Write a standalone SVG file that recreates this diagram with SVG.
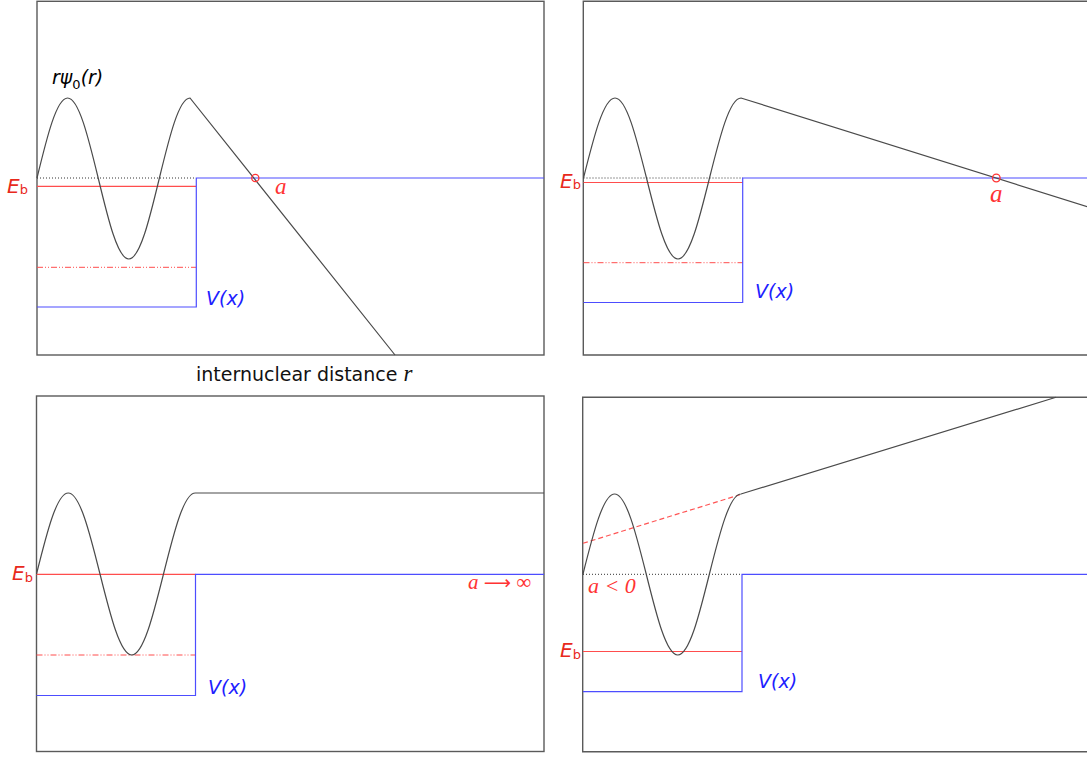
<svg xmlns="http://www.w3.org/2000/svg" width="1087" height="757" viewBox="0 0 1087 757">
<style>
.frame{fill:none;stroke:#5a5a5a;stroke-width:1.4}
.wave{fill:none;stroke:#4a4a4a;stroke-width:1.2}
.pot{fill:none;stroke:#4d4dff;stroke-width:1.2}
.eb{fill:none;stroke:#ff4d4d;stroke-width:1.2}
.dd{fill:none;stroke:#ff4d4d;stroke-width:1;stroke-dasharray:6,2,1,2,1,2}
.dot{fill:none;stroke:#333;stroke-width:1;stroke-dasharray:1,2}
.dash{fill:none;stroke:#ff5555;stroke-width:1.2;stroke-dasharray:5,3}
.mark{fill:none;stroke:#ff3333;stroke-width:1.3}
.lab{font-family:"DejaVu Sans",Verdana,sans-serif;font-style:italic;font-size:19px}
.sub{font-style:normal;font-size:13px}
.eblab{fill:#e8291c;font-size:20px}
.vlab{fill:#2020ff}
.alab{font-family:"Liberation Serif","Times New Roman",serif;font-style:italic;fill:#ff3333}
</style>
<rect width="1087" height="757" fill="#fff"/>

<g id="panel-tl">
<rect class="frame" x="37" y="1.3" width="507" height="353.7"/>
<line class="dot" x1="37" y1="178" x2="196" y2="178"/>
<line class="eb" x1="37" y1="186.3" x2="196" y2="186.3"/>
<line class="dd" x1="37" y1="267.3" x2="196" y2="267.3"/>
<path class="pot" d="M37,307 H196.3 V178 H544"/>
<path class="wave" d="M37,178 C46.98,137 56.53,98 67.6,98 C78.67,98 88.22,137 98.2,178 C108.18,219.5 117.73,259 128.8,259 C139.87,259 149.42,219.5 159.4,178 C169.38,137 178.93,98 190,98 L395,355"/>
<circle class="mark" cx="255.3" cy="178" r="3.6"/>
<text class="alab" x="275" y="194" font-size="23">a</text>
<text class="lab" x="52" y="84" font-size="20">rψ<tspan class="sub" dy="5">0</tspan><tspan dy="-5">(r)</tspan></text>
<text class="lab eblab" x="7" y="193">E<tspan class="sub" dy="1">b</tspan></text>
<text class="lab vlab" x="206" y="305">V(x)</text>
<text x="196" y="381" font-family="DejaVu Sans,Verdana,sans-serif" font-size="19" fill="#111">internuclear distance <tspan font-family="Liberation Serif,serif" font-style="italic" font-size="23">r</tspan></text>
</g>

<g id="panel-tr">
<path class="frame" d="M1090,1.3 H583.3 V355 H1090"/>
<line class="dot" x1="583.5" y1="178" x2="743" y2="178"/>
<line class="eb" x1="583.5" y1="182.5" x2="743" y2="182.5"/>
<line class="dd" x1="583.5" y1="262.7" x2="743" y2="262.7"/>
<path class="pot" d="M583.5,302.5 H742.7 V178 H1090"/>
<path class="wave" d="M583.5,178 C593.77,137 603.6,98 615,98 C626.4,98 636.23,137 646.5,178 C656.77,219.5 666.6,259 678,259 C689.4,259 699.23,219.5 709.5,178 C719.77,137 729.6,98 741,98 L1090,207.5"/>
<circle class="mark" cx="996.3" cy="178" r="3.8"/>
<text class="alab" x="990" y="202" font-size="25">a</text>
<text class="lab eblab" x="560" y="188">E<tspan class="sub" dy="1">b</tspan></text>
<text class="lab vlab" x="755" y="298">V(x)</text>
</g>

<g id="panel-bl">
<rect class="frame" x="36.5" y="396" width="507.5" height="355.5"/>
<line class="dd" x1="36.5" y1="655" x2="195.5" y2="655"/>
<line class="eb" x1="36.5" y1="574.3" x2="195.5" y2="574.3"/>
<path class="pot" d="M36.5,695.5 H195.5 V574.3 H544"/>
<path class="wave" d="M36.5,574 C46.85,532.5 56.76,493 68.25,493 C79.74,493 89.65,532.5 100,574 C110.35,615.5 120.26,655 131.75,655 C143.24,655 153.15,615.5 163.5,574 C173.85,532.5 183.76,493 195.25,493 L544,493"/>
<text class="alab" x="468" y="589" font-size="21">a <tspan font-style="normal" font-family="DejaVu Sans,sans-serif" font-size="19">⟶</tspan><tspan font-style="normal"> ∞</tspan></text>
<text class="lab eblab" x="12" y="580">E<tspan class="sub" dy="2">b</tspan></text>
<text class="lab vlab" x="208" y="694">V(x)</text>
</g>

<g id="panel-br">
<path class="frame" d="M1090,397.3 H582.7 V751.7 H1090"/>
<line class="dot" x1="583" y1="574.3" x2="742" y2="574.3"/>
<line class="eb" x1="583" y1="651.5" x2="742" y2="651.5"/>
<path class="pot" d="M583,691.7 H742 V574.3 H1090"/>
<line class="dash" x1="583" y1="543.3" x2="740" y2="494.7"/>
<path class="wave" d="M583,574 C593.3,533 603.16,494 614.6,494 C626.04,494 635.9,533 646.2,574 C656.5,615.5 666.36,655 677.8,655 C689.24,655 699.1,615.5 709.4,574 C719.7,533 729.56,494 741,494 L1056,397.3"/>
<text class="alab" x="588" y="593" font-size="22">a &lt; 0</text>
<text class="lab eblab" x="560" y="657">E<tspan class="sub" dy="2">b</tspan></text>
<text class="lab vlab" x="758" y="688">V(x)</text>
</g>
</svg>
